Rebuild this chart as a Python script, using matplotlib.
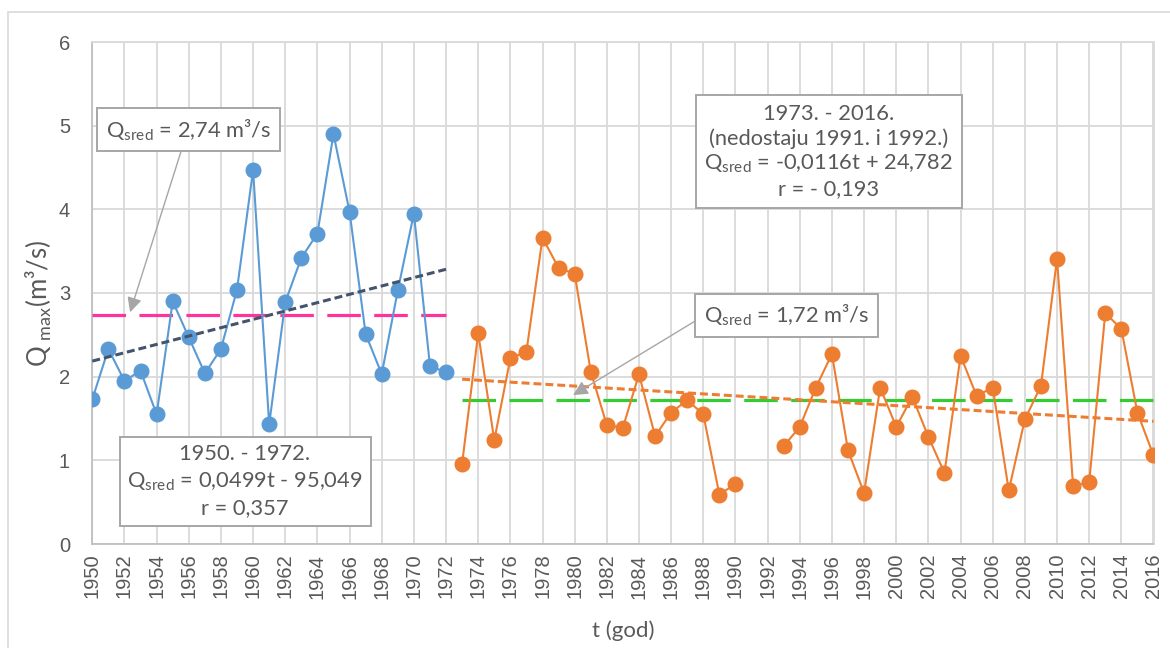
import numpy as np
import matplotlib
matplotlib.use("Agg")
import matplotlib.pyplot as plt
from matplotlib.patches import Rectangle

# ---- data ----
years_a = list(range(1950, 1973))
q_a = [1.73, 2.33, 1.95, 2.07, 1.55, 2.90, 2.47, 2.04, 2.33, 3.04, 4.47, 1.43,
       2.89, 3.42, 3.71, 4.90, 3.97, 2.51, 2.03, 3.03, 3.95, 2.13, 2.05]

years_b = list(range(1973, 2017))
q_b = [0.96, 2.52, 1.24, 2.22, 2.30, 3.66, 3.30, 3.23, 2.06, 1.42, 1.39, 2.03,
       1.29, 1.57, 1.72, 1.55, 0.59, 0.72, np.nan, np.nan, 1.17, 1.40, 1.87,
       2.27, 1.12, 0.61, 1.87, 1.40, 1.76, 1.28, 0.85, 2.25, 1.77, 1.87, 0.64,
       1.49, 1.89, 3.41, 0.69, 0.74, 2.76, 2.57, 1.57, 1.06]

mean_a = 2.74
mean_b = 1.72
xtick_years = list(range(1950, 2017, 2))
yticks = [0, 1, 2, 3, 4, 5, 6]

label_mean_a = "Q$_{\\mathregular{sred}}$ = 2,74 m³/s"
label_mean_b = "Q$_{\\mathregular{sred}}$ = 1,72 m³/s"
label_a = "1950. - 1972.\nQ$_{\\mathregular{sred}}$ = 0,0499t - 95,049\nr = 0,357"
label_b = ("1973. - 2016.\n(nedostaju 1991. i 1992.)\n"
           "Q$_{\\mathregular{sred}}$ = -0,0116t + 24,782\nr = - 0,193")

# ---- style ----
plt.rcParams['font.family'] = ['Lato', 'DejaVu Sans']
plt.rcParams['mathtext.fontset'] = 'custom'
plt.rcParams['mathtext.rm'] = 'Lato'
txt_col = '#595959'
grid_col = '#D9D9D9'

fig = plt.figure(figsize=(11.7, 6.48), dpi=100)
ax = fig.add_axes([92.3 / 1170, 1 - 544 / 648, (1153.5 - 92.3) / 1170, (544 - 42) / 648])

# outer chart border
fig.patches.append(Rectangle((8 / 1170, -0.05), 1.2, 1 - 12 / 648 + 0.05,
                             transform=fig.transFigure, fill=False,
                             edgecolor='#D9D9D9', lw=1.2, zorder=0))

ya = np.array(years_a, float)
qa = np.array(q_a, float)
yb = np.array(years_b, float)
qb = np.array(q_b, float)

# series
ax.plot(ya, qa, color='#5B9BD5', lw=1.5, marker='o', ms=10.5, zorder=4)
ax.plot(yb, qb, color='#ED7D31', lw=1.5, marker='o', ms=10.5, zorder=4)

# means
ax.plot([ya[0], ya[-1]], [mean_a, mean_a], color='#FF3399', lw=2.3,
        dashes=(10.5, 4.2), zorder=3)
ax.plot([yb[0], yb[-1]], [mean_b, mean_b], color='#33CC33', lw=2.3,
        dashes=(10.5, 4.2), zorder=3)

# trend lines (least squares)
pa = np.polyfit(ya, qa, 1)
ax.plot([ya[0], ya[-1]], np.polyval(pa, [ya[0], ya[-1]]), color='#44546A',
        lw=2.2, dashes=(2.6, 1.3), zorder=5)
mb = ~np.isnan(qb)
pb = np.polyfit(yb[mb], qb[mb], 1)
ax.plot([yb[0], yb[-1]], np.polyval(pb, [yb[0], yb[-1]]), color='#ED7D31',
        lw=2.2, dashes=(2.6, 1.3), zorder=3)

# axes
ax.set_xlim(1950, 2016)
ax.set_ylim(0, 6)
ax.set_xticks(xtick_years)
ax.set_xticklabels([str(y) for y in xtick_years], rotation=90,
                   fontfamily='Liberation Sans')
ax.set_yticks(yticks)
ax.set_yticklabels([str(v) for v in yticks], fontfamily='Liberation Sans')
ax.tick_params(axis='both', length=0, colors=txt_col, labelsize=14.5)
ax.tick_params(axis='y', pad=16)
ax.tick_params(axis='x', pad=7)
ax.grid(True, color=grid_col, lw=1.3, zorder=0)
ax.set_axisbelow(True)
for s in ['top', 'right']:
    ax.spines[s].set_color(grid_col)
    ax.spines[s].set_linewidth(1.3)
for s in ['left', 'bottom']:
    ax.spines[s].set_color('#BFBFBF')
    ax.spines[s].set_linewidth(1.3)

ax.set_ylabel("Q$_{\\mathregular{\\ max}}$(m³/s)", fontsize=18.5, color=txt_col)
ax.yaxis.set_label_coords(-0.036, 0.48)
ax.set_xlabel("t (god)", fontsize=16, color=txt_col, labelpad=16)

bbox = dict(boxstyle='square,pad=0.4', fc='white', ec='#A6A6A6', lw=1.4)
arrow = dict(arrowstyle='-|>', color='#A6A6A6', lw=1.0, mutation_scale=22,
             shrinkA=0, shrinkB=0)

fs = 15.75
ax.annotate(label_mean_a, xy=(1952.35, 2.77), xytext=(1956.0, 4.95),
            ha='center', va='center', fontsize=fs, color=txt_col, bbox=bbox,
            arrowprops=dict(arrow, relpos=(0.47, 0)), zorder=6)
ax.annotate(label_mean_b, xy=(1979.9, 1.78), xytext=(1993.2, 2.73),
            ha='center', va='center', fontsize=fs, color=txt_col, bbox=bbox,
            arrowprops=dict(arrow, relpos=(0, 0.5)), zorder=6)
ax.text(1959.5, 0.75, label_a, ha='center', va='center', fontsize=fs,
        color=txt_col, bbox=dict(bbox, boxstyle='square,pad=0.35'),
        linespacing=1.35, zorder=6)
ax.text(1995.8, 4.69, label_b, ha='center', va='center', fontsize=fs,
        color=txt_col, bbox=bbox, linespacing=1.25, zorder=6)

fig.savefig('out.png', dpi=100)
